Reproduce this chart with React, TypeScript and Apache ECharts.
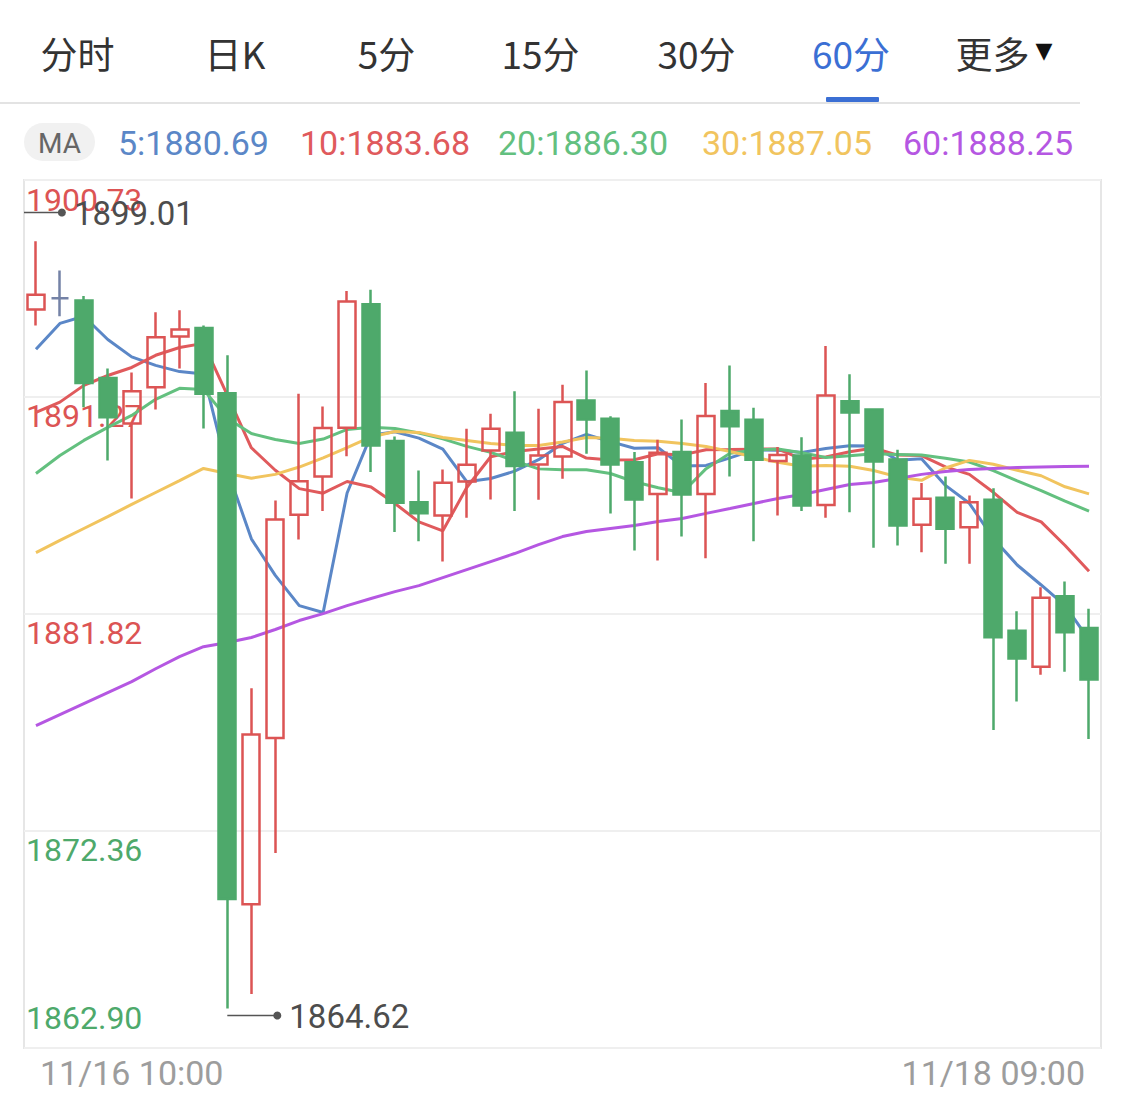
import React, { useEffect, useRef } from 'react';
import * as echarts from 'echarts';

// ---------- data ----------
const categories = [
  '11/16 06:00', '11/16 07:00', '11/16 08:00', '11/16 09:00', '11/16 10:00', '11/16 11:00', '11/16 12:00', '11/16 13:00',
  '11/16 14:00', '11/16 15:00', '11/16 16:00', '11/16 17:00', '11/16 18:00', '11/16 19:00', '11/16 20:00', '11/16 21:00',
  '11/16 22:00', '11/16 23:00', '11/17 00:00', '11/17 01:00', '11/17 02:00', '11/17 03:00', '11/17 04:00', '11/17 16:00',
  '11/17 17:00', '11/17 18:00', '11/17 19:00', '11/17 20:00', '11/17 21:00', '11/17 22:00', '11/17 23:00', '11/18 00:00',
  '11/18 01:00', '11/18 02:00', '11/18 03:00', '11/18 04:00', '11/18 05:00', '11/18 06:00', '11/18 07:00', '11/18 08:00',
  '11/18 09:00', '11/18 10:00', '11/18 11:00', '11/18 12:00', '11/18 13:00',
];

const opens = [1895.09, 1895.58, 1895.48, 1892.10, 1890.12, 1891.70, 1893.91, 1894.28, 1891.44, 1869.17, 1876.41, 1886.14, 1887.81, 1889.93, 1895.31, 1889.36, 1886.69, 1886.11, 1887.59, 1888.94, 1889.71, 1888.33, 1888.68, 1891.12, 1890.33, 1888.43, 1887.05, 1888.87, 1887.05, 1890.66, 1890.28, 1888.48, 1888.72, 1886.57, 1891.09, 1890.73, 1888.55, 1885.70, 1886.88, 1885.60, 1886.79, 1881.09, 1879.52, 1882.59, 1881.21];
const closes = [1895.73, 1895.58, 1891.88, 1890.39, 1891.52, 1893.88, 1894.21, 1891.41, 1869.39, 1876.56, 1885.93, 1887.60, 1889.92, 1895.44, 1889.16, 1886.66, 1886.21, 1887.53, 1888.32, 1889.89, 1888.26, 1888.72, 1891.05, 1890.29, 1888.33, 1886.81, 1888.84, 1887.02, 1890.44, 1890.00, 1888.54, 1888.75, 1886.54, 1891.34, 1890.60, 1888.46, 1885.67, 1886.84, 1885.53, 1886.69, 1880.80, 1879.88, 1882.52, 1881.02, 1878.96];
const lows = [1894.39, 1894.79, 1890.83, 1888.51, 1886.85, 1890.73, 1892.52, 1889.90, 1864.62, 1865.25, 1871.40, 1885.06, 1886.30, 1888.69, 1888.00, 1885.39, 1884.99, 1884.10, 1886.01, 1886.81, 1886.30, 1886.79, 1887.71, 1888.80, 1886.20, 1884.58, 1884.15, 1885.19, 1884.25, 1887.81, 1884.99, 1886.11, 1886.30, 1886.01, 1886.25, 1884.70, 1884.80, 1884.51, 1884.00, 1884.00, 1876.76, 1878.00, 1879.17, 1879.30, 1876.37];
const highs = [1898.06, 1896.79, 1895.67, 1892.52, 1892.34, 1894.97, 1895.05, 1894.39, 1893.09, 1878.58, 1886.76, 1891.41, 1890.86, 1895.89, 1895.95, 1889.55, 1888.07, 1888.11, 1889.89, 1890.54, 1891.52, 1890.76, 1891.81, 1892.43, 1890.43, 1888.87, 1889.41, 1890.29, 1891.88, 1892.65, 1890.80, 1889.09, 1889.52, 1893.49, 1892.26, 1890.77, 1888.97, 1887.52, 1887.81, 1886.98, 1887.30, 1881.93, 1882.98, 1883.23, 1882.04];

const ma5 = [1893.35, 1894.48, 1894.79, 1893.78, 1893.02, 1892.65, 1892.38, 1892.28, 1888.08, 1885.09, 1883.50, 1882.18, 1881.88, 1887.09, 1889.61, 1889.76, 1889.48, 1889.00, 1887.58, 1887.72, 1888.04, 1888.54, 1889.25, 1889.64, 1889.33, 1889.04, 1889.06, 1888.26, 1888.29, 1888.62, 1888.97, 1888.95, 1888.85, 1889.03, 1889.15, 1889.14, 1888.52, 1888.58, 1887.42, 1886.64, 1885.11, 1883.95, 1883.08, 1882.18, 1880.69];
const ma10 = [1890.60, 1891.05, 1891.78, 1892.21, 1892.56, 1893.09, 1893.43, 1893.61, 1891.34, 1889.06, 1888.08, 1887.28, 1887.08, 1887.59, 1887.35, 1886.63, 1885.83, 1885.44, 1887.33, 1888.67, 1888.90, 1889.01, 1889.12, 1888.61, 1888.53, 1888.54, 1888.80, 1888.75, 1888.97, 1888.98, 1889.00, 1889.01, 1888.56, 1888.66, 1888.89, 1889.05, 1888.74, 1888.72, 1888.23, 1887.90, 1887.12, 1886.24, 1885.83, 1884.80, 1883.68];
const ma20 = [1887.94, 1888.72, 1889.38, 1889.95, 1890.47, 1891.17, 1891.65, 1891.60, 1890.34, 1889.68, 1889.42, 1889.25, 1889.44, 1889.86, 1889.95, 1889.90, 1889.70, 1889.45, 1889.12, 1888.86, 1888.49, 1888.14, 1888.10, 1888.10, 1887.94, 1887.58, 1887.32, 1887.10, 1888.15, 1888.82, 1888.95, 1889.01, 1888.84, 1888.64, 1888.71, 1888.80, 1888.77, 1888.74, 1888.60, 1888.44, 1888.06, 1887.62, 1887.19, 1886.73, 1886.30];
const ma30 = [1884.49, 1885.02, 1885.54, 1886.06, 1886.59, 1887.11, 1887.63, 1888.16, 1887.94, 1887.73, 1887.90, 1888.22, 1888.62, 1889.07, 1889.53, 1889.77, 1889.73, 1889.51, 1889.38, 1889.25, 1889.16, 1889.16, 1889.31, 1889.51, 1889.47, 1889.38, 1889.34, 1889.25, 1889.12, 1888.90, 1888.66, 1888.43, 1888.25, 1888.29, 1888.25, 1888.07, 1887.79, 1887.64, 1888.18, 1888.51, 1888.34, 1888.08, 1887.84, 1887.36, 1887.05];
const ma60 = [1876.95, 1877.43, 1877.91, 1878.39, 1878.87, 1879.43, 1879.96, 1880.39, 1880.57, 1880.79, 1881.14, 1881.53, 1881.83, 1882.18, 1882.49, 1882.79, 1883.05, 1883.40, 1883.75, 1884.10, 1884.45, 1884.84, 1885.19, 1885.41, 1885.54, 1885.67, 1885.85, 1885.98, 1886.20, 1886.41, 1886.63, 1886.85, 1887.02, 1887.24, 1887.46, 1887.55, 1887.72, 1887.90, 1888.03, 1888.11, 1888.16, 1888.20, 1888.22, 1888.24, 1888.25];

const maPeriods = [5, 10, 20, 30, 60];
const yTickValues = [1900.73, 1891.27, 1881.82, 1872.36, 1862.90];
const yTickLabels = ['1900.73', '1891.27', '1881.82', '1872.36', '1862.90'];
const yTickTrend = ['up', 'up', 'up', 'down', 'down'];
const xLabelIndices = [4, 40];
const tabs = ['分时', '日K', '5分', '15分', '30分', '60分', '更多'];
const activeTab = '60分';
// extreme markers: [anchor category index, value, direction (-1 above, 1 below)]
const extremeMarks = [
  [1, 1899.01, -1],
  [10, 1864.62, 1],
];

// ---------- styles ----------
const RED = '#dc5454';
const GREEN = '#4ea96b';
const DOJI = '#7482a6';
const MA_COLORS = ['#5b87c7', '#e05a5c', '#63c07f', '#f1c45e', '#b557e2'];
const NUM_FONT = 'Roboto, "Liberation Sans", sans-serif';
const CJK_FONT = '"Noto Sans CJK SC", "Noto Sans", sans-serif';

export default function App() {
  const ref = useRef<HTMLDivElement>(null);

  useEffect(() => {
    document.body.style.margin = '0';
    if (!ref.current) return;
    const chart = echarts.init(ref.current, undefined, { renderer: 'svg' });

    const candleData = categories.map((_, i) => [opens[i], closes[i], lows[i], highs[i]]);
    const maSeriesData = [ma5, ma10, ma20, ma30, ma60];

    const tabCenters = [77.5, 235, 386.5, 540.5, 696.5, 851, 992.5];
    const legendLefts = [118, 300, 498, 702, 903];

    const graphicEls: any[] = [];
    tabs.forEach((t, i) => {
      graphicEls.push({
        type: 'text',
        x: tabCenters[i],
        y: 53,
        style: {
          text: t,
          fill: t === activeTab ? '#3b6fd4' : '#333333',
          fontSize: 37,
          fontFamily: CJK_FONT,
          align: 'center',
          verticalAlign: 'middle',
          textAlign: 'center',
          textVerticalAlign: 'middle',
        },
      });
    });
    graphicEls.push({
      type: 'text',
      x: 1044,
      y: 50,
      style: {
        text: '▼',
        fill: '#111111',
        fontSize: 22,
        fontFamily: '"DejaVu Sans", sans-serif',
        align: 'center',
        verticalAlign: 'middle',
        textAlign: 'center',
        textVerticalAlign: 'middle',
      },
    });
    graphicEls.push({ type: 'rect', shape: { x: 0, y: 102, width: 1080, height: 2 }, style: { fill: '#e3e3e3' } });
    graphicEls.push({ type: 'rect', shape: { x: 826, y: 97, width: 53, height: 5, r: 1 }, style: { fill: '#3b6fd4' } });
    graphicEls.push({ type: 'rect', shape: { x: 24, y: 123, width: 71, height: 38, r: 19 }, style: { fill: '#f1f1f1' } });
    graphicEls.push({
      type: 'text',
      x: 59.5,
      y: 143,
      style: {
        text: 'MA',
        fill: '#666666',
        fontSize: 28,
        fontFamily: NUM_FONT,
        align: 'center',
        verticalAlign: 'middle',
        textAlign: 'center',
        textVerticalAlign: 'middle',
      },
    });
    maPeriods.forEach((p, k) => {
      const arr = maSeriesData[k];
      graphicEls.push({
        type: 'text',
        x: legendLefts[k],
        y: 143,
        style: {
          text: `${p}:${arr[arr.length - 1].toFixed(2)}`,
          fill: MA_COLORS[k],
          fontSize: 34,
          fontFamily: NUM_FONT,
          align: 'left',
          verticalAlign: 'middle',
          textAlign: 'left',
          textVerticalAlign: 'middle',
        },
      });
    });

    const labelIdx = (v: number) => yTickValues.findIndex((t) => Math.abs(t - v) < 0.001);

    const option: any = {
      animation: false,
      backgroundColor: '#ffffff',
      grid: {
        left: 24,
        right: 24,
        top: 180,
        bottom: 62,
        show: true,
        borderColor: '#e6e6e6',
        borderWidth: 2,
      },
      xAxis: {
        type: 'category',
        data: categories,
        boundaryGap: true,
        axisLine: { show: false },
        axisTick: { show: false },
        splitLine: { show: false },
        axisLabel: {
          interval: (i: number) => xLabelIndices.includes(i),
          color: '#9d9d9d',
          fontSize: 34,
          fontFamily: NUM_FONT,
          margin: 8,
          formatter: (v: string) => v,
        },
      },
      yAxis: {
        type: 'value',
        min: yTickValues[yTickValues.length - 1],
        max: yTickValues[0],
        axisLine: { show: false },
        axisTick: { show: false, customValues: yTickValues },
        splitLine: { show: true, lineStyle: { color: '#efefef', width: 2 } },
        axisLabel: {
          inside: true,
          margin: 2,
          customValues: yTickValues,
          showMinLabel: true,
          showMaxLabel: true,
          verticalAlign: 'middle',
          formatter: (v: number) => {
            const i = labelIdx(v);
            if (i < 0) return '';
            const trend = yTickTrend[i];
            let pos = 'mid';
            if (i === 0) pos = 'top';
            if (i === yTickValues.length - 1) pos = 'bot';
            return `{${trend}_${pos}|${yTickLabels[i]}}`;
          },
          rich: {
            up_top: { color: RED, fontSize: 32, fontFamily: NUM_FONT, padding: [40, 0, 0, 0] },
            up_mid: { color: RED, fontSize: 32, fontFamily: NUM_FONT, padding: [38, 0, 0, 0] },
            up_bot: { color: RED, fontSize: 32, fontFamily: NUM_FONT, padding: [0, 0, 60, 0] },
            down_top: { color: GREEN, fontSize: 32, fontFamily: NUM_FONT, padding: [40, 0, 0, 0] },
            down_mid: { color: GREEN, fontSize: 32, fontFamily: NUM_FONT, padding: [38, 0, 0, 0] },
            down_bot: { color: GREEN, fontSize: 32, fontFamily: NUM_FONT, padding: [0, 0, 60, 0] },
          },
        },
      },
      graphic: { elements: graphicEls },
      series: [
        ...maSeriesData.map((d, k) => ({
          type: 'line',
          name: `MA${maPeriods[k]}`,
          data: d,
          symbol: 'none',
          smooth: false,
          silent: true,
          z: 2,
          lineStyle: { width: 3, color: MA_COLORS[k] },
        })),
        {
          type: 'candlestick',
          data: candleData,
          barWidth: 17.5,
          z: 3,
          itemStyle: {
            color: 'rgba(255,255,255,0)',
            color0: GREEN,
            borderColor: RED,
            borderColor0: GREEN,
            borderColorDoji: DOJI,
            borderWidth: 2.5,
          },
        },
        {
          type: 'custom',
          data: extremeMarks,
          z: 6,
          clip: false,
          silent: true,
          renderItem: (params: any, api: any) => {
            const idx = api.value(0);
            const val = api.value(1);
            const dir = api.value(2);
            const p = api.coord([idx, val]);
            const y = p[1] + 7 * dir;
            const dotX = p[0] + 2;
            const x0 = Math.max(params.coordSys.x, dotX - 50);
            return {
              type: 'group',
              children: [
                { type: 'line', shape: { x1: x0, y1: y, x2: dotX, y2: y }, style: { stroke: '#555555', lineWidth: 1.5 } },
                { type: 'circle', shape: { cx: dotX, cy: y, r: 4 }, style: { fill: '#555555' } },
                {
                  type: 'text',
                  x: dotX + 12,
                  y: y + 1,
                  style: {
                    text: Number(val).toFixed(2),
                    fill: '#4d4d4d',
                    fontSize: 33,
                    fontWeight: 'normal',
                    fontFamily: NUM_FONT,
                    align: 'left',
                    verticalAlign: 'middle',
                    textAlign: 'left',
                    textVerticalAlign: 'middle',
                  },
                },
              ],
            };
          },
        },
      ],
    };

    chart.setOption(option);
    return () => {
      chart.dispose();
    };
  }, []);

  return <div ref={ref} style={{ width: 1125, height: 1110 }} />;
}
